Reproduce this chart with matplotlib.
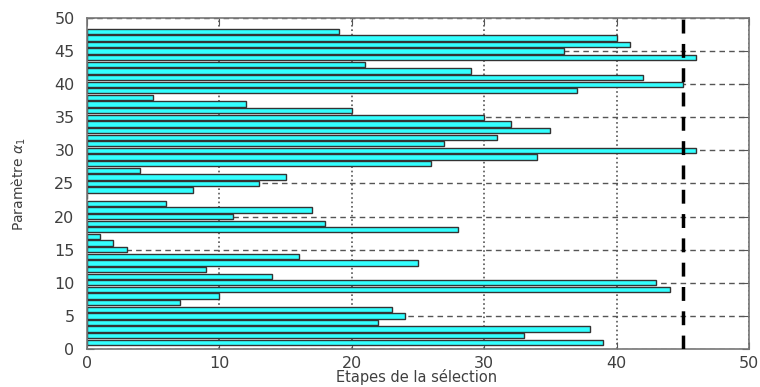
import numpy as np
import matplotlib
matplotlib.use('Agg')
import matplotlib.pyplot as plt

# parametres (axe y) et nombre d'etapes de selection (axe x)
parametres = np.arange(1, 49)
etapes = [39, 33, 38, 22, 24, 23, 7, 10, 44, 43,
          14, 9, 25, 16, 3, 2, 1, 28, 18, 11,
          17, 6, 0, 8, 13, 15, 4, 26, 34, 46,
          27, 31, 35, 32, 30, 20, 12, 5, 37, 45,
          42, 29, 21, 46, 36, 41, 40, 19]
seuil = 45

xticks = [0, 10, 20, 30, 40, 50]
yticks = [0, 5, 10, 15, 20, 25, 30, 35, 40, 45, 50]

gris = '#404040'

fig = plt.figure(figsize=(7.6, 3.87), dpi=100)
ax = fig.add_axes([0.1145, 0.0982, 0.871, 0.8553])

ax.barh(parametres, etapes, height=0.8, color='#33FFFF',
        edgecolor='#333333', linewidth=1.0, zorder=2)

# seuil en tirets noirs epais
ax.axvline(seuil, color='black', linestyle=(0, (4, 3)), linewidth=2.5, zorder=3)

ax.set_xlim(0, 50)
ax.set_ylim(0, 50)
ax.set_xticks(xticks)
ax.set_yticks(yticks)

# grille : pointillee en vertical, en tirets en horizontal
ax.xaxis.grid(True, linestyle=':', color='#555555', linewidth=1.2, zorder=0)
ax.yaxis.grid(True, linestyle=(0, (4, 3)), color='#555555', linewidth=1.0, zorder=0)
ax.set_axisbelow(True)

ax.tick_params(direction='in', length=5, top=True, right=True,
               labelsize=11.5, labelcolor=gris, color='#555555')
ax.tick_params(axis='x', pad=5)
ax.tick_params(axis='y', pad=9)
for s in ax.spines.values():
    s.set_color('#777777')
    s.set_linewidth(1.2)

# titres des axes
fig.text(0.5485, 0.012, 'Etapes de la sélection', fontsize=10.5, color=gris,
         ha='center', va='baseline')
fig.text(0.025, 0.525, r'Paramètre $\alpha_1$', fontsize=10, color=gris,
         rotation=90, ha='center', va='center')

fig.savefig('out.png', dpi=100)
